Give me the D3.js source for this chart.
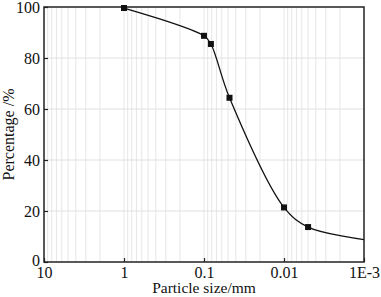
<!DOCTYPE html>
<html>
<head>
<meta charset="utf-8">
<script src="https://cdn.jsdelivr.net/npm/d3@7"></script>
<style>
  body { margin: 0; background: #fff; }
  svg text { font-family: "Liberation Serif", "Times New Roman", serif; fill: #111; }
</style>
</head>
<body>
<div id="chart"></div>
<script>
"use strict";

// particle size (mm) vs percentage passing
const sizes = [1, 0.1, 0.082, 0.048, 0.01, 0.005];
const percents = [99.6, 88.7, 85.5, 64.4, 21.4, 13.7];
// curve continues past last measured point
const tailSize = [0.001];
const tailPercent = [8.8];

const xTicks = [10, 1, 0.1, 0.01, 0.001];
const xTickLabels = ["10", "1", "0.1", "0.01", "1E-3"];
const yTicks = [0, 20, 40, 60, 80, 100];

const width = 381, height = 297;
const margin = { top: 7, right: 17, bottom: 35, left: 44 };
const fontStack = "Liberation Serif, Times New Roman, serif";

const svg = d3.select("#chart").append("svg")
  .attr("width", width)
  .attr("height", height)
  .attr("font-family", fontStack);

const x = d3.scaleLog().domain([10, 0.001]).range([margin.left, width - margin.right]);
const y = d3.scaleLinear().domain([0, 100]).range([height - margin.bottom, margin.top]);

// minor log grid
const minor = [];
for (let e = -3; e < 1; e++) {
  for (let m = 2; m <= 9; m++) minor.push(m * Math.pow(10, e));
}
svg.append("g").selectAll("line").data(minor.concat(xTicks.slice(1, -1))).join("line")
  .attr("x1", d => x(d)).attr("x2", d => x(d))
  .attr("y1", y(0)).attr("y2", y(100))
  .attr("stroke", "#e6e6e6").attr("stroke-width", 1);

svg.append("g").selectAll("line").data(yTicks.slice(1, -1)).join("line")
  .attr("x1", x(10)).attr("x2", x(0.001))
  .attr("y1", d => y(d)).attr("y2", d => y(d))
  .attr("stroke", "#e0e0e0").attr("stroke-width", 1);

// axes with inward ticks
const xAxis = svg.append("g")
  .attr("transform", `translate(0,${y(0)})`)
  .call(d3.axisBottom(x).tickValues(xTicks).tickFormat((d, i) => xTickLabels[i])
    .tickSizeInner(-4).tickSizeOuter(0).tickPadding(5));
const yAxis = svg.append("g")
  .attr("transform", `translate(${x(10)},0)`)
  .call(d3.axisLeft(y).tickValues(yTicks).tickSizeInner(-4).tickSizeOuter(0).tickPadding(4));

[xAxis, yAxis].forEach(g => {
  g.attr("font-family", fontStack).attr("font-size", 16);
  g.select(".domain").remove();
  g.selectAll(".tick line").attr("stroke", "#222").attr("stroke-width", 1.2);
  g.selectAll("text").attr("fill", "#111").style("font-family", fontStack);
});
// the 0 label sits a little high in the reference
yAxis.selectAll(".tick text").filter(d => d === 0).attr("dy", "0.2em");

// frame
svg.append("rect")
  .attr("x", x(10)).attr("y", y(100))
  .attr("width", x(0.001) - x(10)).attr("height", y(0) - y(100))
  .attr("fill", "none").attr("stroke", "#222").attr("stroke-width", 1.5);

// curve
const pts = sizes.map((s, i) => [s, percents[i]])
  .concat(tailSize.map((s, i) => [s, tailPercent[i]]));
const line = d3.line()
  .x(d => x(d[0])).y(d => y(d[1]))
  .curve(d3.curveCatmullRom.alpha(0.5));
svg.append("path").datum(pts)
  .attr("d", line)
  .attr("fill", "none").attr("stroke", "#111").attr("stroke-width", 1.3);

// markers
const ms = 6;
svg.append("g").selectAll("rect").data(sizes).join("rect")
  .attr("x", (d) => x(d) - ms / 2)
  .attr("y", (d, i) => y(percents[i]) - ms / 2)
  .attr("width", ms).attr("height", ms)
  .attr("fill", "#111");

// axis titles
svg.append("text")
  .attr("x", (x(10) + x(0.001)) / 2)
  .attr("y", 293)
  .attr("text-anchor", "middle")
  .attr("font-size", "15.5px")
  .style("font-family", fontStack)
  .text("Particle size/mm");

svg.append("text")
  .attr("transform", `translate(14,${(y(0) + y(100)) / 2}) rotate(-90)`)
  .attr("text-anchor", "middle")
  .attr("font-size", "16px")
  .style("font-family", fontStack)
  .text("Percentage /%");
</script>
</body>
</html>
